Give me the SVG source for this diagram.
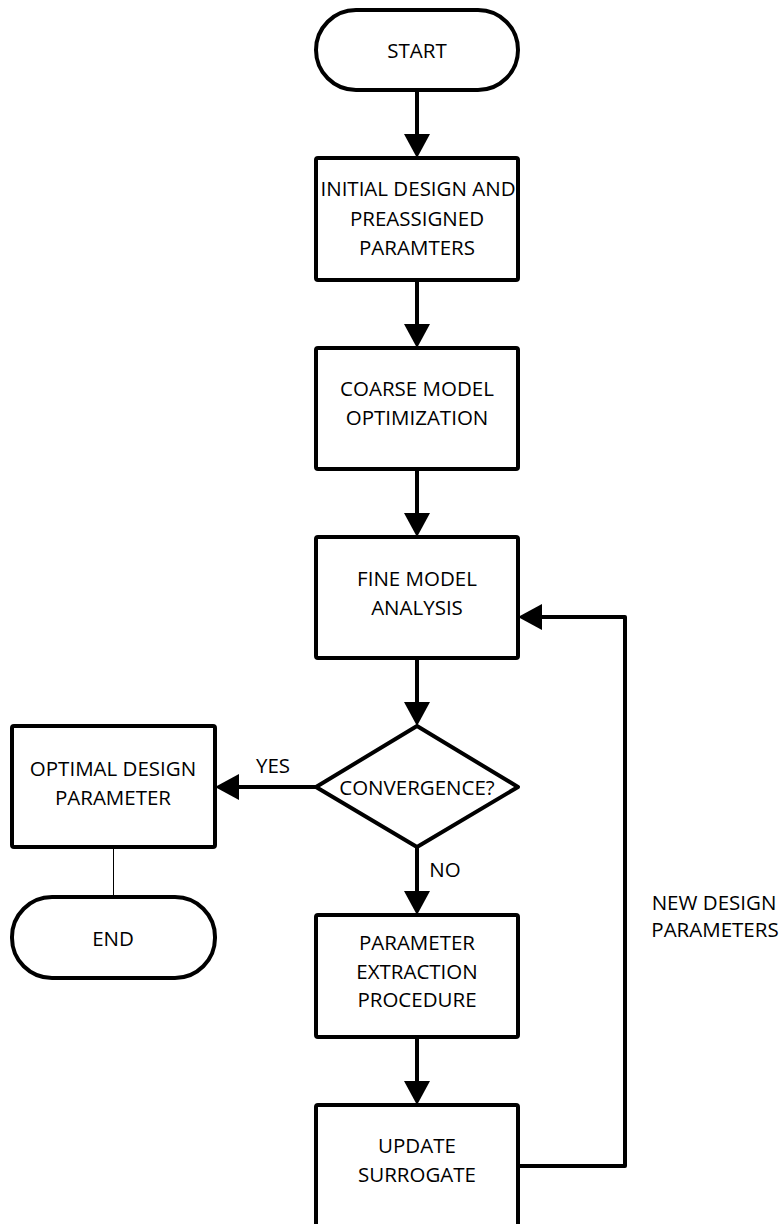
<svg xmlns="http://www.w3.org/2000/svg" width="781" height="1224" viewBox="0 0 781 1224">
<style>
.shape{fill:#fff;stroke:#000;stroke-width:4;stroke-linejoin:round}
.conn{fill:none;stroke:#000;stroke-width:4;stroke-linejoin:round}
.thin{fill:none;stroke:#000;stroke-width:1}
text{font-family:"Open Sans","Liberation Sans",sans-serif;font-size:20.5px;fill:#000;text-anchor:middle;dominant-baseline:central}
</style>
<defs>
<marker id="arr" markerUnits="userSpaceOnUse" markerWidth="26" markerHeight="26" viewBox="0 0 24 26" refX="14" refY="13" orient="auto">
<path d="M0,0 L24,13 L0,26 z" fill="#000"/>
</marker>
</defs>
<rect width="781" height="1224" fill="#fff"/>
<g id="connectors">
<line class="conn" x1="417" y1="90" x2="417" y2="148" marker-end="url(#arr)"/>
<line class="conn" x1="417" y1="280" x2="417" y2="338" marker-end="url(#arr)"/>
<line class="conn" x1="417" y1="469" x2="417" y2="527" marker-end="url(#arr)"/>
<line class="conn" x1="417" y1="658" x2="417" y2="716" marker-end="url(#arr)"/>
<line class="conn" x1="316" y1="787" x2="225" y2="787" marker-end="url(#arr)"/>
<line class="conn" x1="417" y1="847" x2="417" y2="905" marker-end="url(#arr)"/>
<line class="conn" x1="417" y1="1037" x2="417" y2="1095" marker-end="url(#arr)"/>
<polyline class="conn" points="518,1166 625,1166 625,617 528,617" marker-end="url(#arr)"/>
<line class="thin" x1="113.5" y1="847" x2="113.5" y2="897"/>
<text x="273" y="765">YES</text>
<text x="445" y="869">NO</text>
<text x="714" y="902">NEW DESIGN</text>
<text x="715" y="929">PARAMETERS</text>
</g>
<g id="start">
<rect class="shape" x="316" y="10" width="202" height="80" rx="40" ry="40"/>
<text x="417" y="50">START</text>
</g>
<g id="initial">
<rect class="shape" x="316" y="158" width="202" height="122" rx="2"/>
<text x="418" y="188">INITIAL DESIGN AND</text>
<text x="417" y="218">PREASSIGNED</text>
<text x="417" y="247">PARAMTERS</text>
</g>
<g id="coarse">
<rect class="shape" x="316" y="348" width="202" height="121" rx="2"/>
<text x="417" y="388">COARSE MODEL</text>
<text x="417" y="417">OPTIMIZATION</text>
</g>
<g id="fine">
<rect class="shape" x="316" y="537" width="202" height="121" rx="2"/>
<text x="417" y="578">FINE MODEL</text>
<text x="417" y="607">ANALYSIS</text>
</g>
<g id="convergence">
<polygon class="shape" points="417,726 518,787 417,847 316,787"/>
<text x="417" y="787">CONVERGENCE?</text>
</g>
<g id="optimal">
<rect class="shape" x="12" y="726" width="203" height="121" rx="2"/>
<text x="113" y="768">OPTIMAL DESIGN</text>
<text x="113" y="797">PARAMETER</text>
</g>
<g id="end">
<rect class="shape" x="12" y="897" width="203" height="81" rx="40" ry="40"/>
<text x="113" y="938">END</text>
</g>
<g id="extraction">
<rect class="shape" x="316" y="915" width="202" height="122" rx="2"/>
<text x="417" y="942">PARAMETER</text>
<text x="417" y="971">EXTRACTION</text>
<text x="417" y="999">PROCEDURE</text>
</g>
<g id="update">
<rect class="shape" x="316" y="1105" width="202" height="122" rx="2"/>
<text x="417" y="1145">UPDATE</text>
<text x="417" y="1174">SURROGATE</text>
</g>
</svg>
